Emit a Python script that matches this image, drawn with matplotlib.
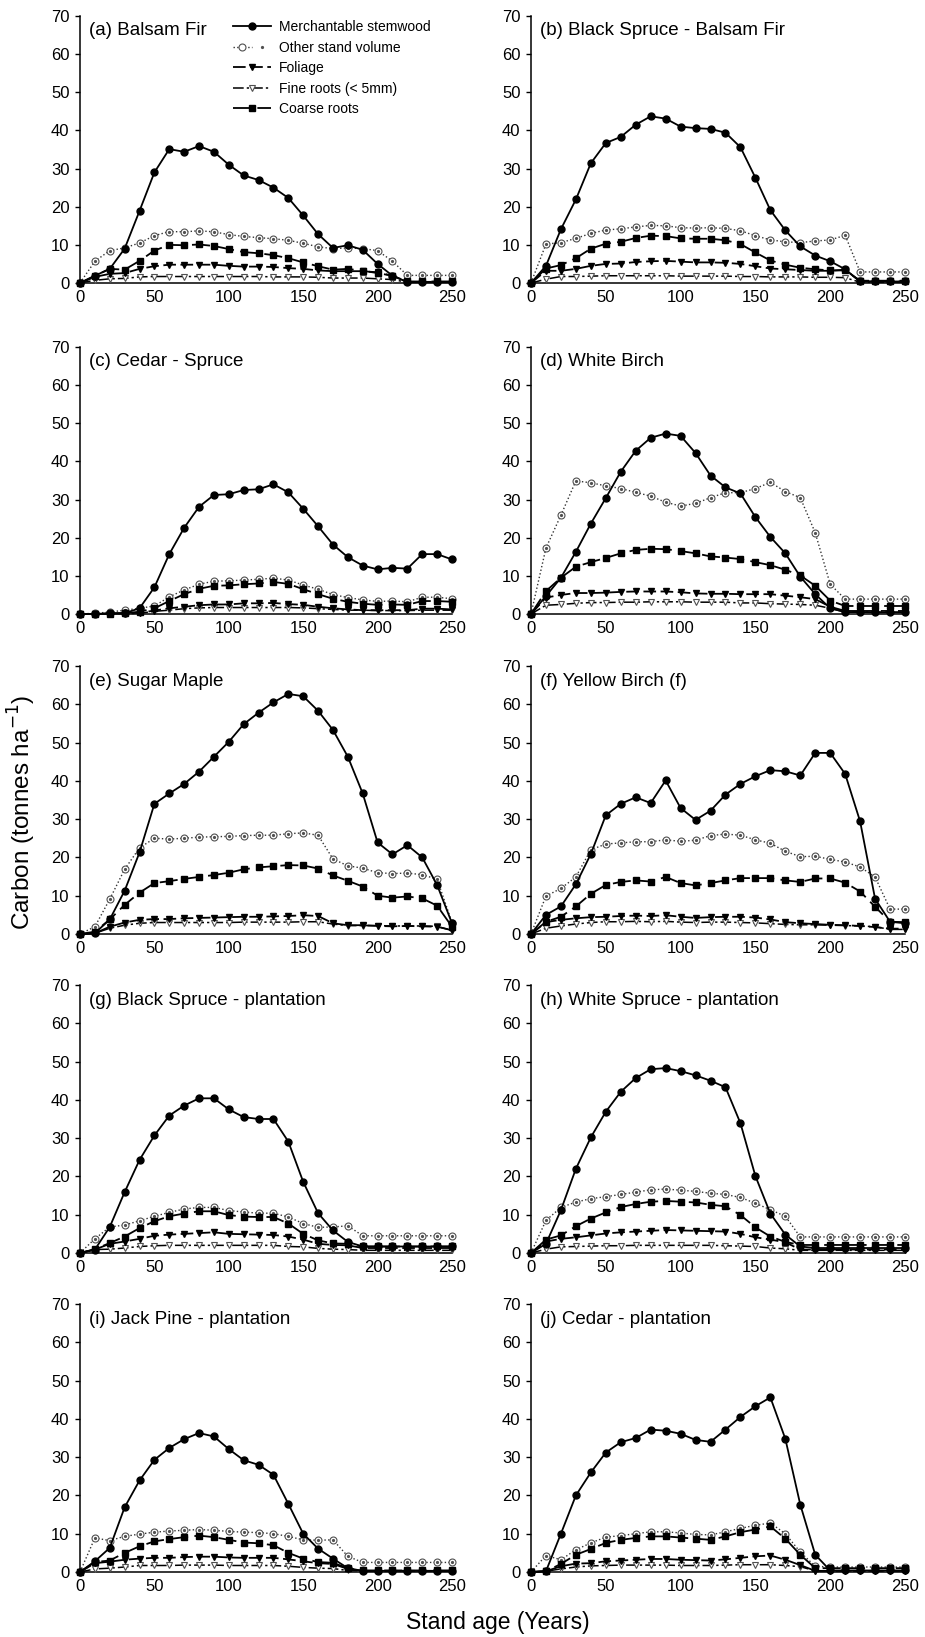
import numpy as np
import matplotlib
matplotlib.use("Agg")
import matplotlib.pyplot as plt
from matplotlib.legend_handler import HandlerTuple

plt.rcParams['font.family'] = ['Liberation Sans', 'DejaVu Sans']

ages = list(range(0, 251, 10))

# (a) Balsam Fir
a_merch = [0, 1.9, 3.7, 9.0, 18.9, 29.0, 35.1, 34.4, 35.9, 34.4, 31.0, 28.2, 27.0, 25.0, 22.3, 17.7, 12.8, 9.2, 9.9, 8.7, 5.0, 1.9, 0.2, 0.2, 0.2, 0.2]
a_other = [0, 5.7, 8.5, 9.2, 10.5, 12.4, 13.5, 13.4, 13.7, 13.4, 12.7, 12.2, 11.9, 11.6, 11.2, 10.4, 9.5, 9.0, 9.2, 9.0, 8.5, 5.7, 2.0, 2.0, 2.0, 2.0]
a_fol = [0, 1.6, 2.4, 2.6, 3.7, 4.4, 4.8, 4.8, 4.8, 4.8, 4.5, 4.3, 4.3, 4.2, 3.9, 3.7, 3.3, 3.1, 3.1, 3.1, 2.8, 1.9, 0.3, 0.3, 0.3, 0.3]
a_fine = [0, 0.7, 1.1, 1.2, 1.6, 1.7, 1.7, 1.7, 1.7, 1.7, 1.7, 1.7, 1.7, 1.6, 1.6, 1.6, 1.5, 1.3, 1.3, 1.3, 1.1, 0.9, 0.2, 0.2, 0.2, 0.2]
a_coarse = [0, 1.9, 3.7, 3.5, 5.8, 8.5, 10.0, 9.9, 10.1, 9.7, 8.9, 8.1, 7.8, 7.3, 6.5, 5.4, 4.4, 3.5, 3.7, 3.2, 2.6, 1.9, 0.4, 0.4, 0.4, 0.4]

# (b) Black Spruce - Balsam Fir
b_merch = [0, 4.5, 14.1, 21.9, 31.4, 36.7, 38.3, 41.5, 43.7, 43.1, 41.0, 40.6, 40.4, 39.4, 35.6, 27.6, 19.1, 13.8, 9.6, 7.2, 5.7, 3.6, 0.4, 0.4, 0.4, 0.4]
b_other = [0, 10.2, 10.6, 11.7, 13.0, 13.9, 14.2, 14.7, 15.1, 15.0, 14.5, 14.4, 14.5, 14.3, 13.7, 12.4, 11.3, 10.8, 10.6, 11.0, 11.3, 12.5, 2.9, 2.9, 2.9, 2.9]
b_fol = [0, 3.2, 3.2, 3.7, 4.5, 5.0, 5.1, 5.5, 5.7, 5.8, 5.6, 5.4, 5.4, 5.3, 5.0, 4.4, 3.8, 3.6, 3.4, 3.2, 3.2, 3.5, 0.4, 0.4, 0.4, 0.4]
b_fine = [0, 1.0, 1.7, 1.7, 1.8, 1.9, 1.9, 1.9, 1.9, 1.9, 1.8, 1.8, 1.8, 1.8, 1.7, 1.7, 1.6, 1.6, 1.6, 1.5, 1.5, 1.4, 0.2, 0.2, 0.2, 0.2]
b_coarse = [0, 3.8, 4.7, 6.5, 9.0, 10.3, 10.8, 11.8, 12.4, 12.3, 11.7, 11.6, 11.6, 11.2, 10.2, 8.0, 5.9, 4.8, 4.0, 3.6, 3.3, 3.3, 0.6, 0.6, 0.6, 0.6]

# (c) Cedar - Spruce
c_merch = [0, 0, 0.2, 0.2, 1.5, 7.0, 15.7, 22.6, 28.1, 31.2, 31.4, 32.5, 32.7, 34.0, 31.9, 27.6, 23.0, 18.2, 14.9, 12.7, 11.7, 12.1, 11.9, 15.7, 15.7, 14.3]
c_other = [0, 0.2, 0.5, 1.0, 1.5, 2.1, 4.5, 6.3, 7.8, 8.6, 8.7, 8.9, 9.1, 9.4, 8.9, 7.6, 6.5, 5.1, 4.3, 3.7, 3.3, 3.4, 3.2, 4.4, 4.4, 4.0]
c_fol = [0, 0, 0.1, 0.2, 0.3, 0.9, 1.5, 1.9, 2.3, 2.5, 2.5, 2.8, 2.8, 2.9, 2.6, 2.4, 1.9, 1.5, 1.2, 1.0, 1.0, 1.0, 1.0, 1.4, 1.4, 1.2]
c_fine = [0, 0, 0.1, 0.1, 0.2, 0.7, 1.0, 1.4, 1.6, 1.7, 1.7, 1.7, 1.7, 1.7, 1.7, 1.6, 1.4, 1.2, 1.0, 1.0, 0.9, 0.9, 0.9, 1.0, 1.0, 1.0]
c_coarse = [0, 0, 0.1, 0.2, 0.6, 1.5, 3.4, 5.2, 6.6, 7.4, 7.5, 7.8, 8.0, 8.4, 7.9, 6.5, 5.2, 4.0, 3.2, 2.7, 2.4, 2.5, 2.4, 3.4, 3.4, 3.2]

# (d) White Birch
d_merch = [0, 4.7, 9.5, 16.3, 23.7, 30.4, 37.3, 42.8, 46.2, 47.3, 46.7, 42.2, 36.3, 33.2, 31.6, 25.4, 20.2, 15.9, 9.8, 5.2, 1.5, 0.5, 0.5, 0.4, 0.4, 0.4]
d_other = [0, 17.3, 25.9, 34.9, 34.4, 33.6, 32.9, 31.9, 30.9, 29.3, 28.3, 29.0, 30.5, 31.8, 31.8, 32.9, 34.5, 32.1, 30.5, 21.3, 7.8, 3.9, 3.9, 3.9, 3.9, 3.9]
d_fol = [0, 4.3, 5.0, 5.5, 5.5, 5.6, 5.8, 5.9, 5.9, 5.9, 5.7, 5.4, 5.3, 5.3, 5.2, 5.2, 5.2, 4.8, 4.4, 3.9, 1.9, 0.8, 0.8, 0.8, 0.8, 0.8]
d_fine = [0, 2.3, 2.5, 2.8, 3.0, 3.0, 3.1, 3.1, 3.2, 3.2, 3.2, 3.1, 3.1, 3.1, 2.9, 2.9, 2.7, 2.6, 2.5, 2.3, 1.5, 0.5, 0.5, 0.5, 0.5, 0.5]
d_coarse = [0, 6.0, 9.5, 12.4, 13.6, 14.7, 15.9, 16.8, 17.1, 17.0, 16.5, 15.9, 15.1, 14.8, 14.4, 13.6, 12.8, 11.6, 10.1, 7.4, 3.5, 2.1, 2.1, 2.1, 2.1, 2.1]

# (e) Sugar Maple
e_merch = [0, 0.2, 3.8, 11.3, 21.3, 34.0, 36.7, 39.2, 42.4, 46.3, 50.2, 54.8, 57.8, 60.5, 62.7, 62.1, 58.3, 53.3, 46.3, 36.7, 23.9, 20.8, 23.2, 20.0, 12.8, 2.8]
e_other = [0, 1.9, 9.1, 16.9, 22.5, 25.0, 24.8, 25.0, 25.3, 25.4, 25.5, 25.7, 25.8, 25.8, 26.2, 26.4, 25.8, 19.6, 17.8, 17.2, 16.0, 15.8, 15.9, 15.5, 14.3, 3.0]
e_fol = [0, 0.2, 1.9, 3.0, 3.7, 3.9, 3.9, 4.1, 4.2, 4.3, 4.4, 4.5, 4.5, 4.6, 4.7, 4.9, 4.7, 2.8, 2.3, 2.3, 2.1, 2.0, 2.1, 2.0, 1.9, 1.0]
e_fine = [0, 0.2, 1.5, 2.3, 2.8, 3.0, 3.0, 3.0, 3.0, 3.0, 3.0, 3.1, 3.1, 3.1, 3.1, 3.2, 3.2, 2.6, 2.2, 2.2, 2.2, 2.1, 2.1, 2.1, 2.0, 0.9]
e_coarse = [0, 0.6, 3.8, 7.6, 10.8, 13.3, 13.8, 14.4, 14.9, 15.4, 16.0, 16.9, 17.4, 17.7, 18.0, 17.9, 17.1, 15.3, 13.9, 12.4, 10.0, 9.5, 9.8, 9.3, 7.4, 1.9]

# (f) Yellow Birch
f_merch = [0, 5.0, 7.2, 13.0, 20.9, 31.0, 34.0, 35.7, 34.2, 40.1, 32.9, 29.8, 32.2, 36.4, 39.2, 41.2, 42.8, 42.5, 41.4, 47.3, 47.3, 41.8, 29.4, 9.2, 3.2, 2.8]
f_other = [0, 9.9, 11.9, 14.9, 22.0, 23.5, 23.8, 24.1, 24.1, 24.6, 24.2, 24.5, 25.7, 26.1, 25.8, 24.6, 23.7, 21.6, 20.2, 20.3, 19.5, 18.8, 17.5, 14.9, 6.5, 6.5]
f_fol = [0, 3.1, 3.7, 4.1, 4.4, 4.5, 4.7, 4.8, 4.7, 4.9, 4.5, 4.2, 4.4, 4.5, 4.5, 4.3, 3.8, 3.1, 2.8, 2.6, 2.4, 2.3, 2.1, 1.8, 1.4, 1.4]
f_fine = [0, 1.5, 2.1, 2.6, 3.0, 3.2, 3.2, 3.3, 3.2, 3.3, 3.1, 3.0, 3.1, 3.1, 3.0, 2.9, 2.7, 2.5, 2.4, 2.4, 2.3, 2.2, 2.1, 1.9, 1.2, 1.2]
f_coarse = [0, 3.2, 4.5, 7.2, 10.5, 12.8, 13.6, 14.0, 13.7, 14.9, 13.3, 12.7, 13.3, 14.0, 14.6, 14.6, 14.6, 14.0, 13.6, 14.5, 14.5, 13.4, 11.1, 7.1, 3.2, 3.1]

# (g) Black Spruce - plantation
g_merch = [0, 0.9, 6.8, 15.9, 24.3, 30.7, 35.9, 38.5, 40.4, 40.4, 37.5, 35.5, 35.0, 35.0, 29.1, 18.6, 10.4, 5.9, 2.9, 1.7, 1.7, 1.7, 1.7, 1.7, 1.7, 1.7]
g_other = [0, 3.7, 6.8, 7.3, 8.4, 9.6, 10.6, 11.5, 11.9, 11.9, 11.1, 10.7, 10.4, 10.4, 9.4, 7.7, 6.7, 6.8, 7.1, 4.5, 4.5, 4.5, 4.5, 4.5, 4.5, 4.5]
g_fol = [0, 0.9, 2.4, 3.0, 3.7, 4.5, 4.8, 5.0, 5.2, 5.4, 5.0, 4.9, 4.8, 4.7, 4.3, 3.5, 2.4, 2.1, 2.0, 1.3, 1.3, 1.3, 1.3, 1.3, 1.3, 1.3]
g_fine = [0, 0.9, 1.0, 1.3, 1.7, 1.9, 2.0, 2.0, 2.0, 2.0, 2.0, 2.0, 2.0, 2.0, 1.7, 1.6, 1.2, 1.0, 0.9, 0.7, 0.7, 0.7, 0.7, 0.7, 0.7, 0.7]
g_coarse = [0, 1.0, 2.6, 4.3, 6.5, 8.3, 9.6, 10.3, 10.9, 10.9, 9.9, 9.5, 9.4, 9.4, 7.7, 5.0, 3.3, 2.5, 2.4, 1.7, 1.7, 1.7, 1.7, 1.7, 1.7, 1.7]

# (h) White Spruce - plantation
h_merch = [0, 2.4, 11.2, 22.0, 30.2, 36.9, 42.1, 45.7, 48.0, 48.3, 47.5, 46.4, 45.0, 43.3, 33.9, 20.1, 10.3, 4.8, 1.7, 1.3, 1.3, 1.3, 1.3, 1.3, 1.3, 1.3]
h_other = [0, 8.5, 11.9, 13.3, 14.2, 14.7, 15.3, 15.9, 16.5, 16.7, 16.4, 16.1, 15.6, 15.3, 14.5, 13.0, 11.3, 9.6, 4.2, 4.2, 4.2, 4.2, 4.2, 4.2, 4.2, 4.2]
h_fol = [0, 3.0, 3.7, 4.1, 4.6, 5.1, 5.4, 5.6, 5.8, 6.0, 5.9, 5.8, 5.7, 5.6, 5.0, 4.1, 3.5, 2.8, 0.9, 0.9, 0.9, 0.9, 0.9, 0.9, 0.9, 0.9]
h_fine = [0, 1.0, 1.6, 1.7, 1.8, 1.9, 1.9, 2.0, 2.0, 2.0, 2.0, 2.0, 2.0, 1.9, 1.8, 1.7, 1.3, 1.1, 0.7, 0.7, 0.7, 0.7, 0.7, 0.7, 0.7, 0.7]
h_coarse = [0, 3.5, 4.6, 7.0, 9.0, 10.6, 12.0, 12.8, 13.4, 13.6, 13.4, 13.2, 12.6, 12.2, 9.9, 6.7, 4.3, 2.9, 2.1, 2.1, 2.1, 2.1, 2.1, 2.1, 2.1, 2.1]

# (i) Jack Pine - plantation
i_merch = [0, 2.8, 6.3, 16.9, 23.9, 29.3, 32.4, 34.7, 36.3, 35.4, 32.1, 29.2, 28.0, 25.4, 17.8, 10.0, 6.1, 3.5, 1.0, 0.3, 0.3, 0.3, 0.3, 0.3, 0.3, 0.3]
i_other = [0, 8.9, 8.2, 9.3, 9.9, 10.4, 10.7, 10.9, 11.1, 10.9, 10.6, 10.4, 10.3, 10.0, 9.3, 8.4, 8.3, 8.4, 4.1, 2.5, 2.5, 2.5, 2.5, 2.5, 2.5, 2.5]
i_fol = [0, 2.3, 2.7, 3.2, 3.5, 3.7, 3.7, 3.9, 4.0, 4.0, 3.8, 3.7, 3.7, 3.7, 3.3, 2.8, 2.3, 2.1, 0.8, 0.3, 0.3, 0.3, 0.3, 0.3, 0.3, 0.3]
i_fine = [0, 0.8, 1.0, 1.3, 1.7, 1.7, 1.7, 1.8, 1.8, 1.8, 1.7, 1.7, 1.7, 1.7, 1.5, 1.2, 1.0, 0.9, 0.4, 0.3, 0.3, 0.3, 0.3, 0.3, 0.3, 0.3]
i_coarse = [0, 2.6, 3.0, 5.0, 6.7, 8.0, 8.6, 9.1, 9.5, 9.1, 8.4, 7.7, 7.5, 7.0, 5.0, 3.5, 2.6, 2.4, 1.0, 0.4, 0.4, 0.4, 0.4, 0.4, 0.4, 0.4]

# (j) Cedar - plantation
j_merch = [0, 0.2, 10.0, 20.0, 26.0, 31.2, 33.9, 35.0, 37.2, 36.9, 36.1, 34.5, 34.0, 37.2, 40.5, 43.3, 45.6, 34.8, 17.6, 4.5, 0.4, 0.4, 0.4, 0.4, 0.4, 0.4]
j_other = [0, 4.3, 3.2, 5.8, 7.6, 9.1, 9.5, 10.0, 10.5, 10.5, 10.2, 9.8, 9.7, 10.5, 11.4, 12.2, 12.8, 10.0, 5.2, 1.5, 1.3, 1.3, 1.3, 1.3, 1.3, 1.3]
j_fol = [0, 0.2, 1.5, 2.2, 2.3, 2.8, 3.0, 3.2, 3.4, 3.4, 3.2, 3.1, 3.0, 3.3, 3.7, 4.1, 4.3, 3.2, 1.8, 0.3, 0.3, 0.3, 0.3, 0.3, 0.3, 0.3]
j_fine = [0, 0.2, 0.8, 1.3, 1.6, 1.7, 1.8, 1.8, 1.8, 1.8, 1.7, 1.7, 1.7, 1.8, 1.9, 1.9, 1.9, 1.7, 1.4, 0.3, 0.3, 0.3, 0.3, 0.3, 0.3, 0.3]
j_coarse = [0, 0.2, 2.1, 4.5, 6.0, 7.6, 8.4, 8.9, 9.3, 9.3, 9.0, 8.7, 8.4, 9.3, 10.4, 11.1, 11.9, 8.7, 4.5, 1.0, 1.0, 1.0, 1.0, 1.0, 1.0, 1.0]

titles = ['(a) Balsam Fir', '(b) Black Spruce - Balsam Fir', '(c) Cedar - Spruce',
          '(d) White Birch', '(e) Sugar Maple', '(f) Yellow Birch (f)',
          '(g) Black Spruce - plantation', '(h) White Spruce - plantation',
          '(i) Jack Pine - plantation', '(j) Cedar - plantation']
panels = [
    (a_merch, a_other, a_fol, a_fine, a_coarse),
    (b_merch, b_other, b_fol, b_fine, b_coarse),
    (c_merch, c_other, c_fol, c_fine, c_coarse),
    (d_merch, d_other, d_fol, d_fine, d_coarse),
    (e_merch, e_other, e_fol, e_fine, e_coarse),
    (f_merch, f_other, f_fol, f_fine, f_coarse),
    (g_merch, g_other, g_fol, g_fine, g_coarse),
    (h_merch, h_other, h_fol, h_fine, h_coarse),
    (i_merch, i_other, i_fol, i_fine, i_coarse),
    (j_merch, j_other, j_fol, j_fine, j_coarse),
]
labels = ['Merchantable stemwood', 'Other stand volume', 'Foliage',
          'Fine roots (< 5mm)', 'Coarse roots']

W, H = 925, 1637
fig = plt.figure(figsize=(W / 100, H / 100), dpi=100)

cols = [(80, 452), (531, 905)]
rows = [(16, 283), (347, 614), (666, 934), (985, 1253), (1304, 1572)]
grey = '#505050'

for k, (title, data) in enumerate(zip(titles, panels)):
    r, c = divmod(k, 2)
    x0, x1 = cols[c]
    y0, y1 = rows[r]
    ax = fig.add_axes([x0 / W, 1 - y1 / H, (x1 - x0) / W, (y1 - y0) / H])
    merch, other, fol, fine, coarse = data

    h_other, = ax.plot(ages, other, ls=':', color='#333333', lw=1.0, marker='o',
                       ms=5, mfc='white', mec=grey, mew=0.8, clip_on=False, zorder=2)
    h_odot, = ax.plot(ages, other, ls='none', marker='o', ms=1.3, color=grey,
                      clip_on=False, zorder=2.1)
    h_fine, = ax.plot(ages, fine, color='black', lw=1.1, dashes=(7, 2, 1.5, 2),
                      marker='v', ms=5, mfc='white', mec=grey, mew=0.8,
                      clip_on=False, zorder=3)
    h_fol, = ax.plot(ages, fol, color='black', lw=1.3, dashes=(7, 2.5),
                     marker='v', ms=5, mfc='black', mec='black',
                     clip_on=False, zorder=4)
    h_coarse, = ax.plot(ages, coarse, color='black', lw=1.3, dashes=(10, 3.5),
                        marker='s', ms=4.5, mfc='black', mec='black',
                        clip_on=False, zorder=5)
    h_merch, = ax.plot(ages, merch, color='black', lw=1.3, ls='-',
                       marker='o', ms=5, mfc='black', mec='black',
                       clip_on=False, zorder=6)

    ax.set_xlim(0, 250)
    ax.set_ylim(0, 70)
    ax.set_xticks(range(0, 251, 50))
    ax.set_yticks(range(0, 71, 10))
    for s in ['top', 'right']:
        ax.spines[s].set_visible(False)
    for s in ['left', 'bottom']:
        ax.spines[s].set_linewidth(1.1)
    ax.tick_params(axis='y', direction='out', length=3.5, width=1.0, labelsize=12, pad=4)
    ax.tick_params(axis='x', length=0, labelsize=12, pad=5)

    ax.text(0.025, 0.944, title, transform=ax.transAxes, fontsize=13.5,
            ha='left', va='center')

    if k == 0:
        ax.legend([h_merch, (h_other, h_odot), h_fol, h_fine, h_coarse], labels,
                  handler_map={tuple: HandlerTuple(ndivide=None, pad=0)},
                  loc='upper left', bbox_to_anchor=(0.41, 0.985), frameon=False,
                  fontsize=10, handlelength=2.8, handletextpad=0.55,
                  labelspacing=0.47, numpoints=1, borderaxespad=0, borderpad=0)

fig.text(22 / W, 1 - 812 / H, 'Carbon (tonnes ha$^{-1}$)', rotation=90,
         ha='center', va='center', fontsize=17.5)
fig.text(498 / W, 1 - 1622 / H, 'Stand age (Years)', ha='center', va='center',
         fontsize=16.5)

fig.savefig('out.png', dpi=100)
